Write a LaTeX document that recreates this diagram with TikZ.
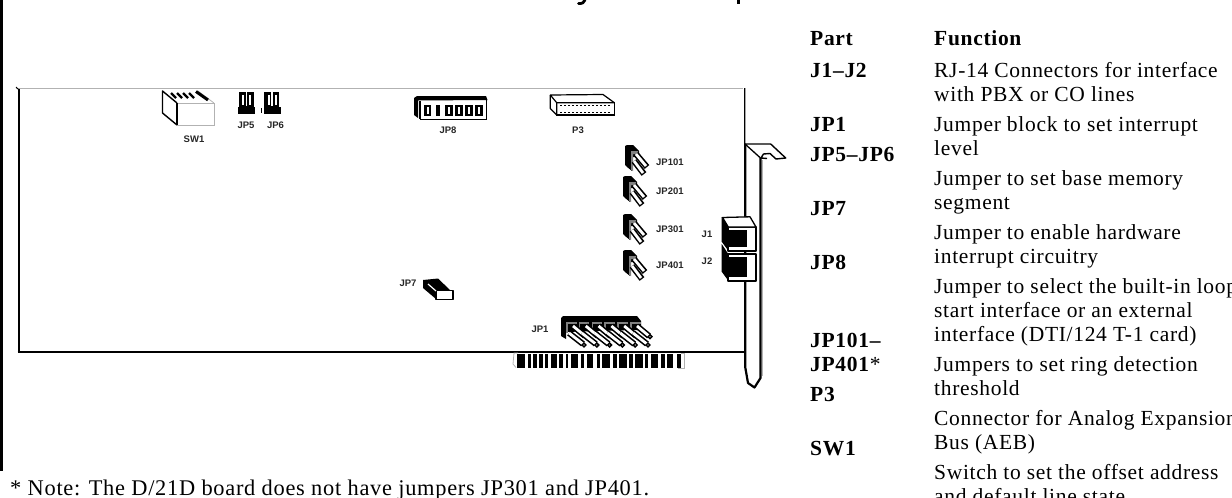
\documentclass[tikz,border=0pt]{standalone}
\usepackage{fontspec}
\setmainfont{Liberation Serif}[LetterSpace=3.2]
\setsansfont{Liberation Sans}
\begin{document}
\begin{tikzpicture}[x=1pt,y=-1pt,
  tbl/.style={anchor=base west,inner sep=0pt,font=\fontsize{21.5}{24}\selectfont},
  tblb/.style={tbl,font=\fontsize{21.5}{24}\selectfont\bfseries},
  notetext/.style={tbl,font=\fontsize{22.4}{24}\selectfont},
  lab/.style={inner sep=0pt,font=\fontsize{9.5}{10}\selectfont\sffamily\bfseries,text=black!85},
  edge/.style={draw=black,line width=2pt},
  gedge/.style={draw=black!30,line width=1.3pt},
  pin/.style={line width=6pt,black},
  pinw/.style={line width=2.8pt,white}]
\useasboundingbox (0,0) rectangle (1232,498);
\clip (0,0) rectangle (1232,498);
\newcommand{\jumper}[2]{%
 \begin{scope}[shift={(#1,#2)}]
  \fill (0,1) -- (2,0) -- (8,0) -- (14,6) -- (14,12) -- (7,12) -- (7,26) -- (2,22) -- (0,20) -- cycle;
  \fill[black!50] (6,6) -- (13,6) -- (13,9) -- (8,9) -- (8,26) -- (6,25) -- cycle;
  \draw[pin] (11,9) -- (22,22);
  \draw[pinw] (11,9) -- (21,21);
  \draw[pin] (9,16) -- (19,29);
  \draw[pinw] (9,16) -- (18,28);
 \end{scope}}
% page edge and cropped title
\fill (0,0) rectangle (2.7,471);
\draw[line width=2.8pt,line cap=round] (585,0) .. controls (584.5,2.5) and (582,3.8) .. (578.5,3.5);
\draw[line width=3.5pt] (738.5,0) -- (738.5,4);
% board outline
\draw[gedge] (16,88.5) -- (743,88.5);
\draw[edge] (18.5,89) -- (18.5,352);
\draw[line width=.8pt] (16,87) -- (19,90);
\draw[edge] (17.5,351.5) -- (745,351.5);
% bracket
\draw[line width=1.4pt,line join=round] (744.7,88) -- (744.7,144) -- (770.7,144) -- (785.7,158) -- (776,159) -- (770,153.5) -- (763.5,154) -- (761,158) -- (767,158.5);
\draw[line width=1.3pt] (745,144) -- (760.5,158);
\draw[line width=2.2pt,line join=round] (760.5,158) -- (760.5,378) -- (754.5,387.5) -- (748,383) -- (745.2,367) -- (745.2,144);
\draw[gedge,line width=1pt] (762,160) -- (762,376);
% gold fingers
\draw[gedge,line width=.8pt] (518,353) -- (514,353) -- (513,364) -- (516,367.5);
\draw[gedge,line width=.8pt] (681,353) -- (684.5,353) -- (684.5,368) -- (678,368);
\foreach \a/\b in {352/376,384/392,400/410,418/428,436/445,452/470,478/490,497/505,512/535,543/553,560/580,590/600,607/630,640/650,657/680,688/698,705/728,736/745,752/775,782/795,802/820,830/843}
  \fill ({400+\a/3},353.5) rectangle ({400+\b/3},367.5);
% SW1
\fill[white] (177,103) rectangle (214,125);
\draw[gedge,line width=1pt] (177,103) -- (214,103) -- (214,125) -- (177,125);
\draw[gedge,line width=.8pt] (198,91) -- (214,103);
\draw[line width=1.4pt,line join=round] (177,125) -- (162.5,113) -- (162.5,91) -- (177,103);
\draw[line width=1.8pt] (177,103) -- (177,125);
\foreach \x in {171,177,183,189}
  \draw[line width=2.2pt] (\x,93) -- (\x+5,98);
\draw[line width=3pt] (196,91.5) -- (208,100);
% JP5, JP6
\foreach \x in {238.5,264}{
  \fill (\x,92) rectangle (\x+15,107);
  \fill (\x-.5,107) rectangle (\x+16.5,113.5);
  \fill[white] (\x+3.5,94.5) rectangle (\x+5.5,105);
  \fill[white] (\x+10.5,94.5) rectangle (\x+12.5,105);
  \fill[white] (\x+7,92) rectangle (\x+8.5,106);
}
\fill (261,107.5) rectangle (262.2,113);
% JP8
\fill (414,98) -- (417,96) -- (486,96) -- (487.5,100) -- (418,100.5) -- (418,118) -- (414,115) -- cycle;
\fill[white] (420,101) rectangle (486,118);
\draw[line width=1.8pt] (420,119.5) -- (486.5,119.5) -- (486.5,99);
\draw[line width=1.4pt] (420,101) -- (420,119);
\foreach \x/\w in {424/7,436/4,445/8,455/8,465/8,475/8}{
  \fill (\x,104.5) rectangle (\x+\w,115.5);
}
\foreach \x in {426.5,448,458,468,478}
  \fill[white] (\x,106.5) rectangle (\x+2,113.5);
% P3
\draw[line width=1.2pt,line join=round,fill=white] (550.3,95) -- (603,94.5) -- (614.3,102.7) -- (556.7,102.7) -- cycle;
\draw[line width=1.2pt,line join=round] (550.3,95) -- (550.3,108.5) -- (556.7,115) -- (556.7,102.7);
\draw[line width=1.5pt] (556.7,102.7) rectangle (614.3,115);
\draw[line width=1pt,dash pattern=on 2pt off 2pt] (560,105.5) -- (611,105.5);
\draw[line width=1pt,dash pattern=on 2pt off 2pt] (560,112) -- (611,112);
% JP101..JP401 jumpers
\jumper{625}{145}
\jumper{623}{176}
\jumper{623}{214}
\jumper{623}{250}
% JP7
\fill (423,280) -- (438,278.5) -- (450,290) -- (436,291) -- (436,299) -- (423,288) -- cycle;
\draw[line width=1.6pt,fill=white,line join=round] (436,290.5) rectangle (452.7,299.3);
\draw[line width=1.2pt,white] (428,284) -- (436,291);
% J1 J2
\foreach \t/\b in {227/250.7,254/280.7}{
  \fill (721.7,\t-10) -- (728.3,\t) -- (728.3,\b) -- (721.7,\b-9) -- cycle;
  \draw[line width=1.8pt,fill=white,line join=round] (728.3,\t) rectangle (756,\b);
  \fill (728.3,\t+3) rectangle (746.7,\b-4);
}
\draw[line width=1.3pt,fill=white,line join=round] (722.5,217.5) -- (750,216.8) -- (756,227) -- (728.3,227) -- cycle;
% JP1
\fill (561,318) -- (563,316) -- (637,316) -- (641,321) -- (641,330) -- (632,330) -- (566,332) -- (566,339) -- (561,336) -- cycle;
\foreach \i in {0,...,5}{
  \fill[black!50] ({566+12.8*\i},321.5) rectangle ({576.5+12.8*\i},323.5);
  \fill[black!50] ({566+12.8*\i},321.5) rectangle ({567.5+12.8*\i},333);
}
\foreach \i in {0,...,5}{
  \draw[pin] ({573+12.8*\i},326) -- ({585+12.8*\i},336);
  \draw[pinw] ({573+12.8*\i},326) -- ({585+12.8*\i},336);
  \draw[line width=1.5pt,fill=white] ({586+12.8*\i},336.7) circle (1.9pt);
}
\foreach \i in {0,...,5}{
  \draw[pin] ({569+12.8*\i},333) -- ({583+12.8*\i},344);
  \draw[pinw] ({569+12.8*\i},333) -- ({583+12.8*\i},344);
  \draw[line width=1.5pt,fill=white] ({584+12.8*\i},345) circle (1.9pt);
}
% board labels
\node[lab] (lsw) at (194,139.5) {SW1};
\node[lab] (ljp5) at (246,125.5) {JP5};
\node[lab] (ljp6) at (275.5,125.5) {JP6};
\node[lab] (ljp8) at (448,130) {JP8};
\node[lab] (lp3) at (578,130) {P3};
\node[lab,anchor=west] (l101) at (656,162) {JP101};
\node[lab,anchor=west] (l201) at (656,191.7) {JP201};
\node[lab,anchor=west] (l301) at (656,229) {JP301};
\node[lab,anchor=west] (l401) at (656,265.7) {JP401};
\node[lab] (lj1) at (707,234) {J1};
\node[lab] (lj2) at (707,261.5) {J2};
\node[lab] (ljp7) at (408,283) {JP7};
\node[lab] (ljp1) at (540,329) {JP1};
% note
\node[notetext] (note) at (10,495) {* Note: The D/21D board does not have jumpers JP301 and JP401.};
% table
\node[tblb] (hp) at (810,45) {Part};
\node[tblb] (hf) at (934,45) {Function};
\node[tblb] (p1) at (810,77) {J1–J2};
\node[tblb] (p2) at (810,131) {JP1};
\node[tblb] (p3) at (810,161) {JP5–JP6};
\node[tblb] (p4) at (810,215) {JP7};
\node[tblb] (p5) at (810,269) {JP8};
\node[tblb] (p6) at (810,347) {JP101–};
\node[tblb] (p7) at (810,371) {JP401\textmd{*}};
\node[tblb] (p8) at (810,401) {P3};
\node[tblb] (p9) at (810,455) {SW1};
\node[tbl] (f1) at (934,77) {RJ-14 Connectors for interface};
\node[tbl] (f2) at (934,101) {with PBX or CO lines};
\node[tbl] (f3) at (934,131) {Jumper block to set interrupt};
\node[tbl] (f4) at (934,155) {level};
\node[tbl] (f5) at (934,185) {Jumper to set base memory};
\node[tbl] (f6) at (934,209) {segment};
\node[tbl] (f7) at (934,239) {Jumper to enable hardware};
\node[tbl] (f8) at (934,263) {interrupt circuitry};
\node[tbl] (f9) at (934,293) {Jumper to select the built-in loop};
\node[tbl] (f10) at (934,317) {start interface or an external};
\node[tbl] (f11) at (934,341) {interface (DTI/124 T-1 card)};
\node[tbl] (f12) at (934,371) {Jumpers to set ring detection};
\node[tbl] (f13) at (934,395) {threshold};
\node[tbl] (f14) at (934,425) {Connector for Analog Expansion};
\node[tbl] (f15) at (934,449) {Bus (AEB)};
\node[tbl] (f16) at (934,479) {Switch to set the offset address};
\node[tbl] (f17) at (934,503) {and default line state};
\end{tikzpicture}
\end{document}
